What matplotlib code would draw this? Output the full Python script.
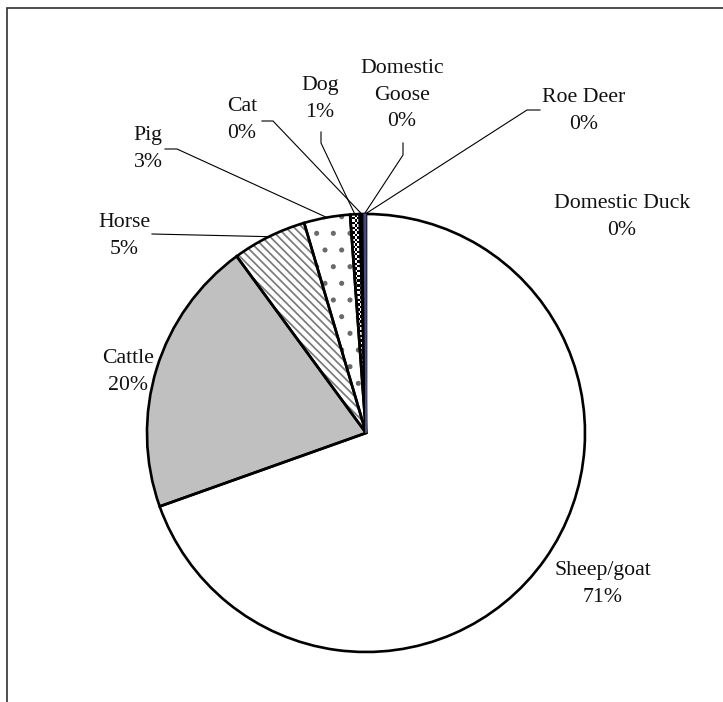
import numpy as np
import matplotlib
matplotlib.use("Agg")
import matplotlib.pyplot as plt
from matplotlib.patches import Wedge, Rectangle

# ---- data ----
categories = ["Sheep/goat", "Cattle", "Horse", "Pig", "Dog", "Cat",
              "Domestic Goose", "Roe Deer", "Domestic Duck"]
values = [69.6, 20.4, 5.5, 3.4, 0.7, 0.3, 0.08, 0.05, 0.03]
pct_labels = ["71%", "20%", "5%", "3%", "1%", "0%", "0%", "0%", "0%"]
label_names = ["Sheep/goat", "Cattle", "Horse", "Pig", "Dog", "Cat",
               "Domestic\nGoose", "Roe Deer", "Domestic Duck"]

# ---- layout / style ----
W, H = 723, 702
plt.rcParams['hatch.linewidth'] = 1.25
fig = plt.figure(figsize=(W / 100, H / 100), dpi=100)
ax = fig.add_axes([0, 0, 1, 1])

cx, cy, R = 366, H - 433, 219
fills = ['white', '#c0c0c0', 'white', 'white', 'white', 'black',
         '#6f73a6', '#6f73a6', '#6f73a6']
hatches = [None, None, '\\\\\\\\', '.', None, None, None, None, None]
hatch_cols = [None, None, '#7a7a7a', '#6a6a6a', None, None, None, None, None]

wedges, _ = ax.pie(values, colors=fills, startangle=90, counterclock=False,
                   center=(cx, cy), radius=R, frame=True,
                   wedgeprops=dict(linewidth=0))

for i, w in enumerate(wedges):
    w.set_zorder(1)
    if hatches[i]:
        ax.add_patch(Wedge(w.center, w.r, w.theta1, w.theta2, facecolor='none',
                           edgecolor=hatch_cols[i], linewidth=0,
                           hatch=hatches[i], zorder=1.5))

# checkered fill for Dog wedge
dw = wedges[4]
sq = 2.4
x0, y0 = cx - 40, cy
nx, ny = int(50 / sq), int((R + 10) / sq)
ii, jj = np.indices((ny, nx))
board = ((ii + jj) % 2).astype(float)
im = ax.imshow(board, cmap='gray', vmin=0, vmax=1, origin='lower',
               extent=(x0, x0 + nx * sq, y0, y0 + ny * sq),
               interpolation='nearest', zorder=1.2)
im.set_clip_path(dw)

# outlines
for i, w in enumerate(wedges):
    if i >= 6:
        ec, lw = '#4a4e88', 0.6
    else:
        ec, lw = 'black', 1.9
    ax.add_patch(Wedge(w.center, w.r, w.theta1, w.theta2, facecolor='none',
                       edgecolor=ec, linewidth=lw, zorder=3,
                       joinstyle='miter'))

# labels (centres in image pixel coords, y downward)
label_pos = [(603, 584), (128, 372), (124, 236), (148, 149), (320, 99),
             (242, 120), (402, 95), (584, 111), (622, 217)]
for name, pct, (lx, ly) in zip(label_names, pct_labels, label_pos):
    ax.text(lx, H - ly, f"{name}\n{pct}", ha='center', va='center',
            family='Liberation Serif', fontsize=15.7, linespacing=1.55,
            color='#111111', zorder=4)

# leader lines: label-side points (image px), then to wedge mid on the rim
leaders = {2: [(152, 234)], 3: [(165, 149), (177, 149)],
           5: [(262, 121), (273, 121)], 4: [(321, 132), (321, 143)],
           6: [(403, 143), (403, 155)], 7: [(540, 110), (527, 110)]}
for idx, pts in leaders.items():
    w = wedges[idx]
    a = np.deg2rad((w.theta1 + w.theta2) / 2)
    mx, my = cx + R * np.cos(a), cy + R * np.sin(a)
    xs = [p[0] for p in pts] + [mx]
    ys = [H - p[1] for p in pts] + [my]
    ax.plot(xs, ys, color='black', lw=0.8, zorder=2.5,
            solid_joinstyle='miter')

ax.set_xlim(0, W)
ax.set_ylim(0, H)
ax.set_aspect('equal')
ax.axis('off')

# outer chart frame (runs off right and bottom edges)
fig.add_artist(Rectangle((7 / W, -0.5), 2.0, 0.5 + 1 - 8 / H,
                         transform=fig.transFigure, fill=False,
                         edgecolor='#303030', linewidth=1.2))

fig.savefig('out.png', dpi=100)
